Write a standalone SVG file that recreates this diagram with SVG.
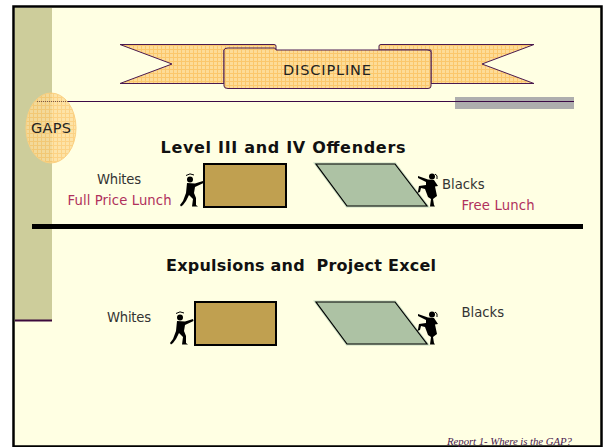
<svg xmlns="http://www.w3.org/2000/svg" width="604" height="447" viewBox="0 0 604 447">
<style>
.t{font-family:"DejaVu Sans",Verdana,sans-serif;font-size:13.200px;fill:#333}
.r{fill:#b0305c}
.h{font-family:"DejaVu Sans",Verdana,sans-serif;font-size:16px;font-weight:bold;fill:#111}
.b{fill:url(#dots);stroke:#4a1a50;stroke-width:1}
.box{fill:#c0a050;stroke:#000;stroke-width:2}
.pg{fill:#adc2a4;stroke:#000;stroke-width:1.200}
.halo{fill:none;stroke:#c8dcc0;stroke-width:3}
</style>
<defs>
<pattern id="dots" width="8" height="8" patternUnits="userSpaceOnUse">
<rect width="8" height="8" fill="#fddc98"/>
<path d="M0 1.500H8M0 5.500H8M1.500 0V8M5.500 0V8" stroke="#fbc76c" stroke-width="1"/>
</pattern>
<g id="pusher" fill="#000">
<circle cx="190" cy="179.500" r="3"/>
<path d="M186 175.500Q190 172.500 194 175" fill="none" stroke="#000" stroke-width="1"/>
<path d="M187 183L195 183.500L203 181L203.500 183L195 187L194 193L196 198L196 205L198 206.500L192 206.500L193 199L189 195L186 201L183 205L181 206.500L180 205L183 201L186 193Z"/>
</g>
<g id="climber" fill="#000">
<circle cx="432" cy="176.500" r="3"/>
<path d="M435 174Q438 175 437 179" fill="none" stroke="#000" stroke-width="1"/>
<path d="M418 176L428 179.500L434 180L438 186L435 186.500L437 196L433 199L434 205L435 206.500L430 206.500L431 199L428 197L425 189L421 188L420 192L417 193L418 191.500L419 186L426 185L426 182L418 178Z"/>
</g>
</defs>
<rect x="0" y="0" width="604" height="447" fill="#fff"/>
<rect x="13.500" y="6.500" width="588" height="440" fill="#ffffe3" stroke="#000" stroke-width="2.500"/>
<rect id="sidebar" x="15" y="8" width="37" height="312" fill="#cdcd9b"/>
<rect x="15" y="319.500" width="37" height="2" fill="#3c0a3c"/>
<rect id="gray-bar" x="455" y="97" width="119" height="12" fill="#aeaeae"/>
<g id="gaps">
<ellipse cx="51" cy="128" rx="25" ry="35" fill="url(#dots)" fill-opacity=".8" stroke="#fbd080" stroke-width="1"/>
<text class="t" x="51" y="133" text-anchor="middle" textLength="40" style="font-size:14.500px;fill:#222">GAPS</text>
</g>
<path id="rule" d="M68 101.500H574" stroke="#3c0a46" stroke-width="1" fill="none"/>
<path d="M37 101.500H68" stroke="#7a5a50" stroke-width="1" stroke-dasharray="1 1" fill="none"/>
<g id="discipline">
<path class="b" d="M120 44.500H274Q276 44.500 276 46V50H224V83.500H120L172 64Z"/>
<path class="b" d="M534 44.500H381Q379 44.500 379 46V50H431V83.500H534L482 64Z"/>
<path class="b" d="M224 50Q224 48 228 48H274Q276 48 276 50H427Q431 50 431 52V86Q431 88.500 428 88.500H228Q224 88.500 224 86Z"/>
<text class="t" x="283" y="75" textLength="88" style="font-size:14.500px;fill:#222">DISCIPLINE</text>
</g>
<text class="h" x="160.500" y="153" textLength="245">Level III and IV Offenders</text>
<g id="whites-1">
<text class="t" x="97" y="184" textLength="44">Whites</text>
<text class="t r" x="67.500" y="205" textLength="104">Full Price Lunch</text>
<use href="#pusher"/>
<rect class="box" x="204" y="164" width="82" height="43"/>
</g>
<g id="blacks-1">
<path class="halo" d="M316 164H395L427 206H347Z"/>
<path class="pg" d="M316 164H395L427 206H347Z"/>
<use href="#climber"/>
<text class="t" x="442" y="189">Blacks</text>
<text class="t r" x="461.500" y="210" textLength="73">Free Lunch</text>
</g>
<rect id="divider" x="32" y="224" width="551" height="5" fill="#000"/>
<text class="h" x="166" y="271" textLength="270" xml:space="preserve">Expulsions and  Project Excel</text>
<g id="whites-2">
<text class="t" x="107" y="322" textLength="44">Whites</text>
<use href="#pusher" x="-10" y="138"/>
<rect class="box" x="195" y="302" width="81" height="43"/>
</g>
<g id="blacks-2">
<path class="halo" d="M316 302H395L427 344H347Z"/>
<path class="pg" d="M316 302H395L427 344H347Z"/>
<use href="#climber" y="138"/>
<text class="t" x="461.500" y="317">Blacks</text>
</g>
<text id="footer" x="447" y="445" textLength="125" style="font-family:'Liberation Serif','Times New Roman',serif;font-size:10.800px;font-style:italic;fill:#4a1a50">Report 1- Where is the GAP?</text>
</svg>
